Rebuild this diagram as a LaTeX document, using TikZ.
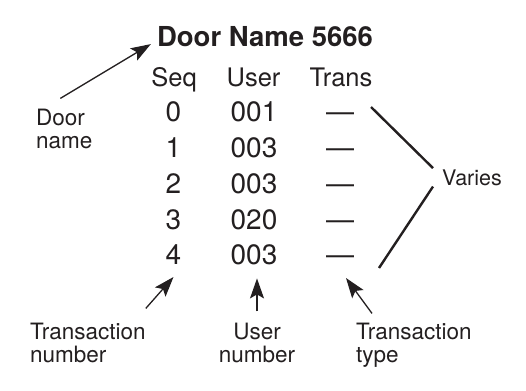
\documentclass[tikz,border=0pt]{standalone}
\usepackage{fontspec}
\setmainfont{TeX Gyre Heros}
\usetikzlibrary{arrows.meta}
\definecolor{ink}{RGB}{35,31,32}

\begin{document}
\begin{tikzpicture}[x=1pt, y=-1pt,
	every node/.style={inner sep=0pt, text=ink},
	head/.style={anchor=base, font=\fontsize{25.5}{28}\selectfont},
	cell/.style={anchor=base, font=\fontsize{28}{30}\selectfont},
	note/.style={anchor=base west, align=left, font=\fontsize{22.5}{23}\selectfont},
	pointer/.style={-{Stealth[length=20pt,width=14pt,inset=4pt]}, line width=1.3pt, draw=ink},
	brace/.style={line width=2.4pt, draw=ink}]
	\useasboundingbox (0,0) rectangle (526,390);
	% table
	\node[anchor=base, font=\bfseries\fontsize{27.5}{30}\selectfont] (title) at (265,47) {Door Name 5666};
	\node[head] (hseq) at (174,87) {Seq};
	\node[head] (huser) at (253.5,87) {User};
	\node[head] (htrans) at (341,87) {Trans};
	\foreach \s/\u [count=\i from 0] in {0/001,1/003,2/003,3/020,4/003} {
		\node[cell] (s\i) at (173.5, 122+35.7*\i) {\s};
		\node[cell] (u\i) at (254, 122+35.7*\i) {\u};
		\node[cell] (t\i) at (340, 122+35.7*\i) {—};
	}
	% labels
	\node[note] (dn) at (36,148) {Door\\name};
	\node[note] (tn) at (30,362) {Transaction\\number};
	\node[note, anchor=base, align=center] (un) at (257,362) {User\\number};
	\node[note] (tt) at (356,362) {Transaction\\type};
	\node[anchor=base west, inner xsep=9pt, inner ysep=1pt, font=\fontsize{21.5}{23}\selectfont] (varies) at (433,185) {Varies};
	% pointers
	\draw[pointer] ([xshift=-4pt,yshift=10pt]dn.north) -- ([xshift=-6pt,yshift=-7pt]title.west);
	\draw[pointer] ([yshift=14pt]tn.north east) -- ([yshift=-12pt]s4.south);
	\draw[pointer] ([yshift=11pt]un.north) -- ([yshift=-13pt]un.north |- u4.south);
	\draw[pointer] ([xshift=16pt,yshift=9pt]tt.north west) -- ([xshift=6pt,yshift=-13pt]t4.south);
	\coordinate (vtop) at (371,107);
	\coordinate (vbot) at (379,268);
	\draw[brace] (vtop) -- (varies.north west);
	\draw[brace] (varies.south west) -- (vbot);
\end{tikzpicture}
\end{document}
